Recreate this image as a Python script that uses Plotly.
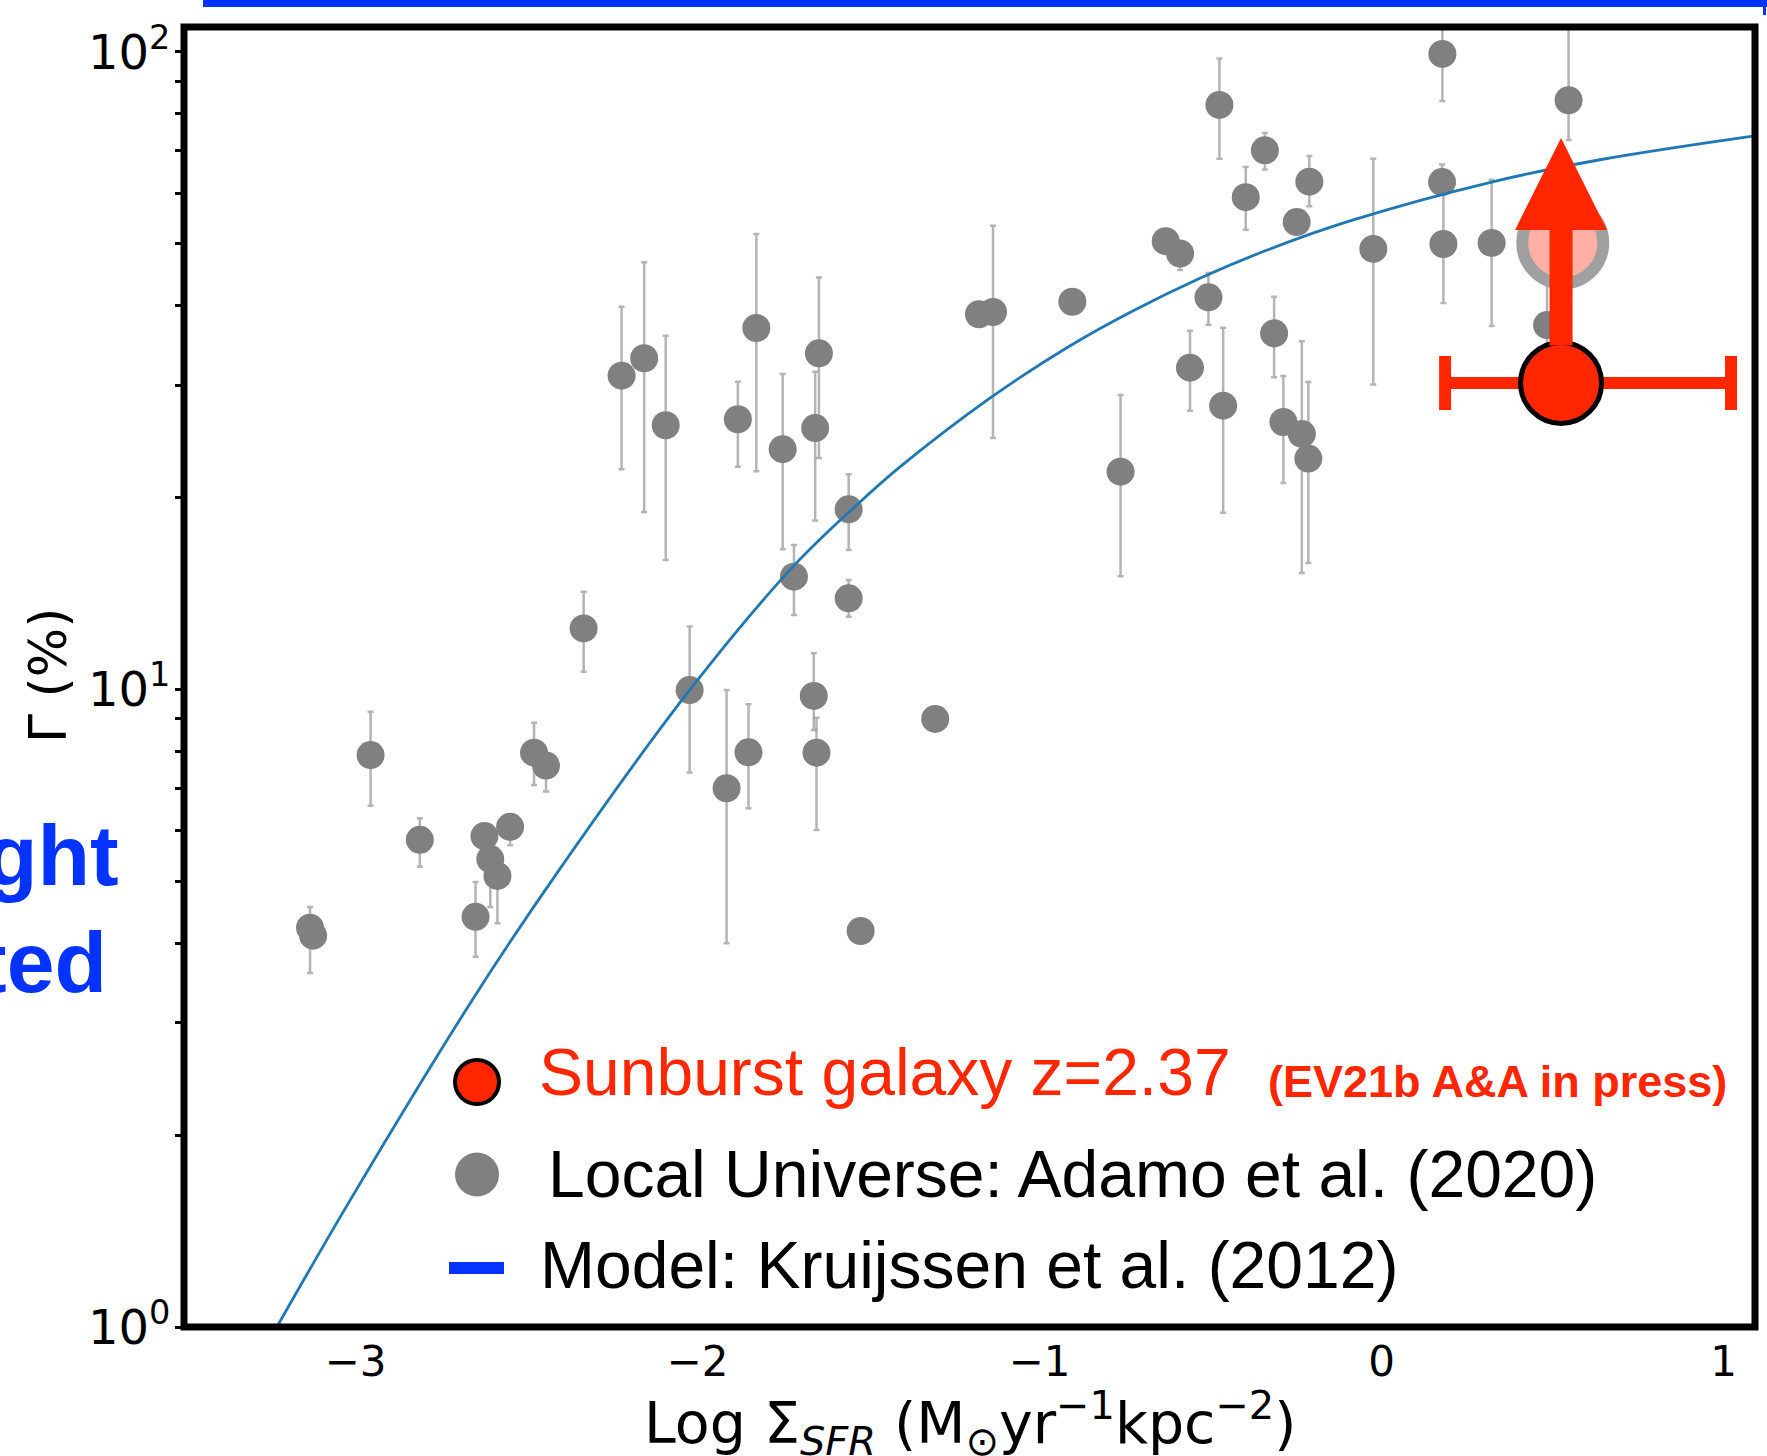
import numpy as np
import plotly.graph_objects as go

# ---------------- data ----------------
# Local Universe: Adamo et al. (2020)  -- log Sigma_SFR, Gamma (%), asymmetric errors
local_logsfr = [-3.133, -3.124, -2.956, -2.812, -2.649, -2.623, -2.606, -2.585, -2.548,
                -2.478, -2.443, -2.333, -2.222, -2.156, -2.093, -2.023, -1.915, -1.882,
                -1.851, -1.828, -1.751, -1.718, -1.660, -1.652, -1.656, -1.645, -1.558,
                -1.558, -1.523, -1.305, -1.177, -1.136, -0.904, -0.763, -0.631, -0.589,
                -0.560, -0.506, -0.474, -0.463, -0.397, -0.341, -0.314, -0.287, -0.248,
                -0.233, -0.214, -0.211, -0.024, 0.178, 0.177, 0.181, 0.322, 0.484, 0.547]
local_gamma = [4.23, 4.11, 7.89, 5.81, 4.40, 5.89, 5.42, 5.10, 6.09,
               7.96, 7.60, 12.47, 31.07, 33.08, 25.97, 9.98, 7.00, 26.54,
               7.97, 36.9, 23.82, 15.03, 9.77, 7.96, 25.71, 33.68, 19.17,
               13.90, 4.18, 8.99, 38.78, 39.1, 40.57, 21.96, 50.5, 48.3,
               31.97, 41.23, 82.6, 27.87, 59.2, 70.1, 36.2, 26.28, 54.1,
               25.17, 23.03, 62.6, 49.1, 99.3, 62.5, 49.98, 50.16, 37.3, 84.0]
local_err_up = [0.33, 0.0, 1.34, 0.47, 0.59, 0.0, 0.5, 0.4, 0.27,
                0.91, 0.0, 1.77, 8.78, 13.7, 9.9, 2.57, 2.98, 3.86,
                1.51, 14.9, 7.44, 1.82, 1.63, 1.07, 5.8, 10.6, 2.59,
                0.95, 0.0, 0.0, 0.0, 14.3, 0.0, 7.0, 0.0, 0.0,
                4.57, 3.8, 15.1, 9.07, 6.8, 4.5, 5.1, 4.75, 0.0,
                10.0, 7.34, 6.1, 18.9, 16.0, 4.1, 12.5, 12.9, 7.1, 25.0]
local_err_down = [0.64, 0.0, 1.32, 0.54, 0.59, 0.0, 0.86, 0.80, 0.39,
                  0.88, 0.68, 1.81, 8.92, 14.1, 10.0, 2.57, 3.00, 4.18,
                  1.46, 14.9, 7.23, 1.94, 1.13, 1.94, 7.3, 10.6, 2.62,
                  0.9, 0.0, 0.0, 0.0, 14.3, 0.0, 6.9, 0.0, 2.8,
                  4.6, 3.9, 14.6, 8.93, 6.6, 4.7, 5.3, 5.2, 0.0,
                  9.94, 7.24, 5.3, 19.0, 15.5, 0.0, 9.6, 13.0, 3.0, 11.2]

# Model: Kruijssen et al. (2012)
model_logsfr = [-3.23, -3.016, -2.652, -2.408, -2.026, -1.720, -1.525, -1.408, -1.145,
                -0.920, -0.726, -0.531, -0.336, -0.092, 0.322, 0.639, 1.086, 1.10]
model_gamma = [1.00, 1.58, 3.30, 5.18, 9.93, 15.60, 19.68, 22.34, 28.64,
               34.36, 39.26, 44.16, 48.87, 54.33, 62.52, 67.76, 73.79, 73.96]

# Sunburst galaxy z=2.37
sun_logsfr = [0.525]
sun_gamma = [30.26]
sun_xerr_minus = [0.339]
sun_xerr_plus = [0.497]
sun_arrow_tip_gamma = 73.3          # lower-limit arrow
faded_logsfr = [0.53]
faded_gamma = [50.2]

x_tickvals = [-3, -2, -1, 0, 1]
y_tickvals = [1, 10, 100]
y_ticktext = ["10<sup>0</sup>", "10<sup>1</sup>", "10<sup>2</sup>"]
y_minorvals = [2, 3, 4, 5, 6, 7, 8, 9, 20, 30, 40, 50, 60, 70, 80, 90]

legend_labels = ["Sunburst galaxy z=2.37", "(EV21b A&A in press)",
                 "Local Universe: Adamo et al. (2020)", "Model: Kruijssen et al. (2012)"]

# ---------------- layout geometry ----------------
W, H = 1767, 1456
ML, MR, MT, MB = 184, 12, 27, 129
PW = W - ML - MR
PH = H - MT - MB


def px(xp):
    return (xp - ML) / PW


def py(yp):
    return (H - MB - yp) / PH


RED = "#FF2600"
BLUE = "#0433FF"

fig = go.Figure()

fig.add_trace(go.Scatter(
    x=local_logsfr, y=local_gamma, mode="markers",
    marker=dict(size=28, color="#808080"),
    error_y=dict(type="data", symmetric=False, array=local_err_up,
                 arrayminus=local_err_down, color="rgba(130,130,130,0.6)",
                 thickness=2.5, width=3),
    showlegend=False, hoverinfo="skip"))

fig.add_trace(go.Scatter(
    x=model_logsfr, y=model_gamma, mode="lines",
    line=dict(color="#1f77b4", width=2.8, shape="spline", smoothing=1.0),
    showlegend=False, hoverinfo="skip"))

fig.add_trace(go.Scatter(
    x=faded_logsfr, y=faded_gamma, mode="markers",
    marker=dict(size=81, color="#FFAFA3", line=dict(color="#A0A0A0", width=12)),
    showlegend=False, hoverinfo="skip"))

fig.add_trace(go.Scatter(
    x=sun_logsfr, y=sun_gamma, mode="markers",
    marker=dict(size=81, color=RED, line=dict(color="black", width=5)),
    error_x=dict(type="data", symmetric=False, array=sun_xerr_plus,
                 arrayminus=sun_xerr_minus, color=RED, thickness=12, width=27),
    showlegend=False, hoverinfo="skip"))

# lower-limit arrow
fig.add_annotation(
    x=sun_logsfr[0], y=np.log10(sun_arrow_tip_gamma),
    ax=sun_logsfr[0], ay=np.log10(sun_gamma[0]),
    xref="x", yref="y", axref="x", ayref="y", text="",
    showarrow=True, arrowhead=2, arrowwidth=23, arrowsize=0.8,
    arrowcolor=RED, startstandoff=36)

# frame
shapes = [
    dict(type="rect", xref="paper", yref="paper", x0=0, x1=1, y0=0, y1=1,
         line=dict(color="black", width=7), layer="above"),
    # blue top banner
    dict(type="rect", xref="paper", yref="paper", x0=px(203), x1=px(W + 10),
         y0=py(7), y1=py(-5), fillcolor=BLUE, line=dict(width=0), layer="above"),
    dict(type="rect", xref="paper", yref="paper", x0=px(1763), x1=px(1766),
         y0=py(15), y1=py(0), fillcolor=BLUE, line=dict(width=0), layer="above"),
    # legend symbols
    dict(type="circle", xref="paper", yref="paper", x0=px(455), x1=px(499),
         y0=py(1104), y1=py(1060), fillcolor=RED, line=dict(color="black", width=4),
         layer="above"),
    dict(type="circle", xref="paper", yref="paper", x0=px(455), x1=px(499),
         y0=py(1196.5), y1=py(1152.5), fillcolor="#808080", line=dict(width=0),
         layer="above"),
    dict(type="rect", xref="paper", yref="paper", x0=px(449), x1=px(504),
         y0=py(1274), y1=py(1262), fillcolor=BLUE, line=dict(width=0), layer="above"),
]

LEG_FONT = "Liberation Sans, Arial, Helvetica, sans-serif"
ann = [
    dict(text=legend_labels[0], x=px(537), y=py(1072), xanchor="left", yanchor="middle",
         font=dict(family=LEG_FONT, size=66, color=RED)),
    dict(text="<b>" + legend_labels[1] + "</b>", x=px(1266), y=py(1081), xanchor="left",
         yanchor="middle", font=dict(family=LEG_FONT, size=45, color=RED)),
    dict(text=legend_labels[2], x=px(546), y=py(1174), xanchor="left", yanchor="middle",
         font=dict(family=LEG_FONT, size=66, color="black")),
    dict(text=legend_labels[3], x=px(538), y=py(1265), xanchor="left", yanchor="middle",
         font=dict(family=LEG_FONT, size=66, color="black")),
    # axis titles
    dict(text="Log Σ<sub><i>SFR</i></sub> (M<sub>⊙</sub>yr<sup>−1</sup>kpc<sup>−2</sup>)",
         x=px(970), y=py(1423), xanchor="center", yanchor="middle",
         font=dict(family="DejaVu Sans", size=57, color="black")),
    dict(text="Γ (%)", x=px(48), y=py(676), xanchor="center", yanchor="middle",
         textangle=-90, font=dict(family="DejaVu Sans", size=52, color="black")),
    # cut-off slide text on the left
    dict(text="<b>ght</b>", x=px(121), y=py(855), xanchor="right", yanchor="middle",
         font=dict(family=LEG_FONT, size=86, color=BLUE)),
    dict(text="<b>ted</b>", x=px(109), y=py(962), xanchor="right", yanchor="middle",
         font=dict(family=LEG_FONT, size=86, color=BLUE)),
]
for a in ann:
    a.update(xref="paper", yref="paper", showarrow=False)
    fig.add_annotation(**a)

fig.update_layout(
    width=W, height=H,
    margin=dict(l=ML, r=MR, t=MT, b=MB, pad=0),
    paper_bgcolor="white", plot_bgcolor="white",
    shapes=shapes,
    xaxis=dict(range=[-3.5015, 1.0921], tickmode="array", tickvals=x_tickvals,
               showgrid=False, zeroline=False, showline=False,
               ticks="", ticklabelstandoff=6,
               tickfont=dict(family="DejaVu Sans", size=42, color="black")),
    yaxis=dict(type="log", range=[0, 2.0392], tickmode="array", tickvals=y_tickvals,
               ticktext=y_ticktext, showgrid=False, zeroline=False, showline=False,
               ticks="outside", ticklen=8, tickwidth=3, tickcolor="black",
               ticklabelstandoff=-5,
               tickfont=dict(family="DejaVu Sans", size=48, color="black"),
               minor=dict(tickmode="array", tickvals=y_minorvals, ticks="outside",
                          ticklen=8, tickwidth=3, tickcolor="black", showgrid=False)),
)

fig.write_html("out.html")
